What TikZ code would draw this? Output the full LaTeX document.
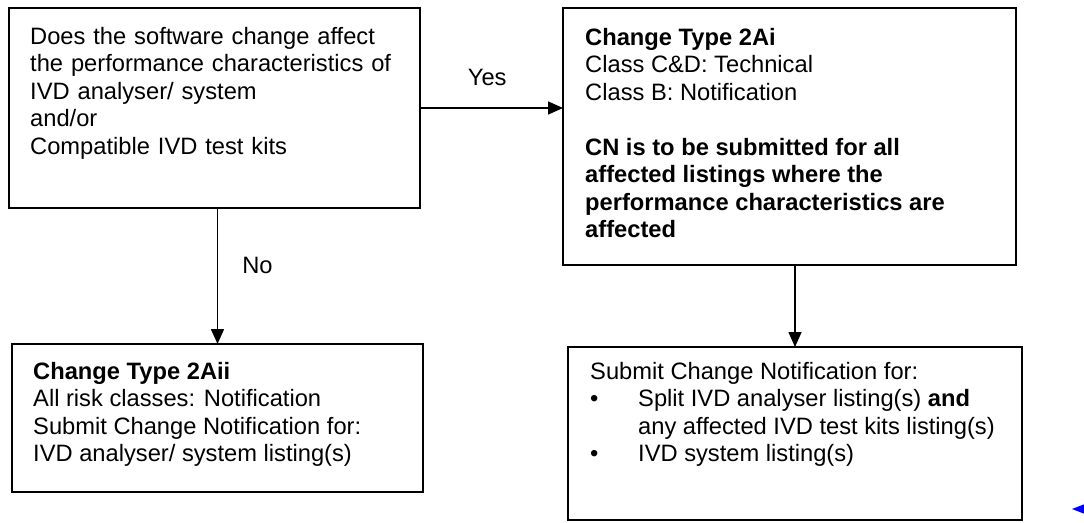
\documentclass[tikz,border=0pt]{standalone}
\usepackage{fontspec}
\setmainfont{Liberation Sans}
\usetikzlibrary{arrows.meta}
\begin{document}
\begin{tikzpicture}[x=1pt,y=-1pt,
  box/.style={draw=black, line width=1.6pt, anchor=north west, inner sep=0pt, outer sep=0pt},
  txt/.style={anchor=north west, inner sep=0pt, align=left, font=\fontsize{23.7}{27.5}\selectfont},
  lbl/.style={inner sep=0pt, font=\fontsize{23.7}{27.5}\selectfont},
  arr/.style={line width=1.6pt, -{Triangle[length=15pt,width=13pt]}}]
\useasboundingbox (0,0) rectangle (1084,522);
% boxes
\node[box, minimum width=411pt, minimum height=200pt] (q) at (9,8) {};
\node[box, minimum width=453pt, minimum height=257pt] (t) at (563,8) {};
\node[box, minimum width=411pt, minimum height=148pt] (b) at (12,344) {};
\node[box, minimum width=454pt, minimum height=173pt] (d) at (568,347) {};
% texts
\node[txt, text width=368pt] (qt) at (30,27) {\makebox[\linewidth][s]{Does the software change affect}\\the performance characteristics of\\IVD analyser/ system\\and/or\\Compatible IVD test kits};
\node[txt] (tt) at (585,28) {\textbf{Change Type 2Ai}\\Class C\&D: Technical\\Class B: Notification\\[27.5pt]\textbf{CN is to be submitted for all}\\\textbf{affected listings where the}\\\textbf{performance characteristics are}\\\textbf{affected}};
\node[txt] (bt) at (33,362) {\textbf{Change Type 2Aii}\\All risk classes: Notification\\Submit Change Notification for:\\IVD analyser/ system listing(s)};
\node[txt] (dt) at (590,362) {Submit Change Notification for:\\\makebox[48pt][l]{\textbullet}Split IVD analyser listing(s) \textbf{and}\\\hspace*{48pt}any affected IVD test kits listing(s)\\\makebox[48pt][l]{\textbullet}IVD system listing(s)};
% connectors
\draw[arr] (q.east) -- (q.east -| t.west) node[lbl, pos=0.47, above=21pt] (yes) {Yes};
\draw[arr] (b.north |- q.south) -- (b.north) node[lbl, pos=0.42, right=24pt] (no) {No};
\draw[arr] (d.north |- t.south) -- (d.north);
% stray marker at the right edge
\fill[blue] (1072,509) -- (1090,502) -- (1090,516) -- cycle;
\end{tikzpicture}
\end{document}
